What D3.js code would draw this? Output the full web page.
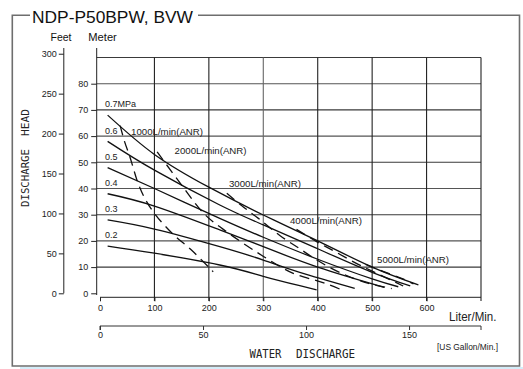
<!DOCTYPE html>
<html><head><meta charset="utf-8">
<script src="https://cdn.jsdelivr.net/npm/d3@7"></script>
<style>
html,body{margin:0;padding:0;background:#fff;}
svg{display:block;font-family:"Liberation Sans",Arial,sans-serif;}
</style></head>
<body>
<svg id="c" width="523" height="369"></svg>
<script>
const title = "NDP-P50BPW, BVW";
const literTicks = [0,100,200,300,400,500,600];
const gallonTicks = [0,50,100,150];
const meterTicks = [0,10,20,30,40,50,60,70,80];
const feetTicks = [0,50,100,150,200,250,300];
const pressureLabels = ["0.7MPa","0.6","0.5","0.4","0.3","0.2"];
const pressureLevels = [70,60,50,40,30,20];
// solid lines: [liter/min, meter]
const p07 = [[14,68],[100,53],[200,40.5],[300,29.9],[400,20],[500,10],[585,3.2]];
const p06 = [[14,58],[100,47],[220,33.7],[300,26.1],[400,17],[500,8],[570,2.8]];
const p05 = [[14,48],[100,40],[220,28.6],[300,21.4],[400,13],[500,5.5],[548,2.5]];
const p04 = [[14,38],[100,33.3],[220,24.2],[300,17.8],[400,10],[522,2.3]];
const p03 = [[14,28],[100,24.5],[220,17.8],[300,12.7],[367,8],[468,1.9]];
const p02 = [[14,18],[100,15.3],[220,10.8],[300,6.5],[367,2.9],[398,1.3]];
const pressureSeries = [p07,p06,p05,p04,p03,p02];
// dashed air consumption lines
const air1000 = [[37,64],[45,58],[55,52],[70,42],[83,36],[100,30.5],[132,23],[168,16.5],[208,8.2]];
const air2000 = [[105,54],[150,41.3],[193,30],[236,23],[282,16.5],[331,10.2],[355,7.6],[398,4.8],[422,3.2],[444,1.3]];
const air3000 = [[233,38.2],[260,33.5],[291,28.6],[331,22],[367,17],[400,12.5],[440,8],[490,4],[536,1.8]];
const air4000 = [[361,24.4],[398,19.7],[432,15.9],[470,11.5],[510,7.5],[557,2.8]];
const air5000 = [[488,11],[520,8.4],[554,5.7],[576,3.6]];
const airSeries = [air1000,air2000,air3000,air4000,air5000];
const airLabels = ["1000L/min(ANR)","2000L/min(ANR)","3000L/min(ANR)","4000L/min(ANR)","5000L/min(ANR)"];
const airLabelPos = [[57,60.5],[137,53],[237,40.5],[349,26.5],[509,11.5]];

const svg = d3.select("#c");
const x = d3.scaleLinear().domain([0,700]).range([100,481]);
const y = d3.scaleLinear().domain([0,90]).range([293.3,57.5]);
const yFeet = d3.scaleLinear().domain([0,300]).range([y(0), y(300*0.3048)]);
const xGal = d3.scaleLinear().domain([0,700/3.78541]).range([100,481]);

// bottom light band
svg.append("rect").attr("x",20).attr("y",367).attr("width",503).attr("height",2).attr("fill","#d4edf9");
// frame
const frameCol = "#6e6e6e";
svg.append("path").attr("d","M30,15.3 H12.3 V366 H519.5 V15.3 H198")
  .attr("fill","none").attr("stroke",frameCol).attr("stroke-width",1.6);
svg.append("text").text(title).attr("x",32).attr("y",22.5).attr("font-size",16.5)
  .attr("textLength",161).attr("lengthAdjust","spacingAndGlyphs").attr("fill","#111");

const gridCol = "#3a3a3a";
// horizontal grid
const g = svg.append("g");
d3.range(10,91,10).forEach(v=>{
  g.append("line").attr("x1",96.7).attr("x2",481).attr("y1",y(v)).attr("y2",y(v))
   .attr("stroke",v%20===0? "#555":gridCol).attr("stroke-width",1.1);
});
// vertical grid
d3.range(100,701,100).forEach(v=>{
  g.append("line").attr("x1",x(v)).attr("x2",x(v)).attr("y1",y(90)).attr("y2",301)
   .attr("stroke",v===300? "#666":"#222").attr("stroke-width",1.1);
});
// x axis (liter)
const xAxis = d3.axisBottom(x).tickValues(literTicks).tickSize(4).tickPadding(3);
const gx = svg.append("g").attr("transform","translate(0,297.3)").call(xAxis);
gx.select(".domain").attr("d","M100,0H481").attr("stroke","#222");
gx.selectAll("text").attr("font-size",9).attr("fill","#222");
gx.selectAll("line").attr("stroke","#222");
// gallon axis
const gAxis = d3.axisBottom(xGal).tickValues(gallonTicks).tickSize(4).tickPadding(2);
const gg = svg.append("g").attr("transform","translate(0,326)").call(gAxis);
gg.select(".domain").attr("d","M100,4V0H481V4").attr("stroke","#333");
gg.selectAll("text").attr("font-size",9).attr("fill","#222");
gg.selectAll("line").attr("stroke","#333");
// meter axis
const yAxis = d3.axisLeft(y).tickValues(meterTicks).tickSize(5.5).tickPadding(3);
const gy = svg.append("g").attr("transform","translate(96.7,0)").call(yAxis);
gy.select(".domain").attr("d","M0,48V295").attr("stroke","#222");
gy.selectAll("text").attr("font-size",9).attr("fill","#222");
gy.selectAll("line").attr("stroke","#222");
// feet axis
const fAxis = d3.axisLeft(yFeet).tickValues(feetTicks).tickSize(5).tickPadding(2);
const gf = svg.append("g").attr("transform","translate(63.8,0)").call(fAxis);
gf.select(".domain").attr("d","M0,48V293.3").attr("stroke","#222");
gf.selectAll("text").attr("font-size",9).attr("fill","#222");
gf.selectAll("line").attr("stroke","#222");

svg.append("text").text("Feet").attr("x",50.5).attr("y",40.5).attr("font-size",10.5).attr("fill","#111")
  .attr("textLength",21).attr("lengthAdjust","spacingAndGlyphs");
svg.append("text").text("Meter").attr("x",88.3).attr("y",40.5).attr("font-size",10.5).attr("fill","#111")
  .attr("textLength",28.5).attr("lengthAdjust","spacingAndGlyphs");

// axis titles
const monoFont = "'DejaVu Sans Mono',monospace";
const vt = svg.append("g").attr("transform","translate(29,0) rotate(-90)");
vt.append("text").text("DISCHARGE").attr("x",-207).attr("y",0).attr("font-size",10.5)
  .attr("font-family",monoFont).attr("textLength",58).attr("lengthAdjust","spacingAndGlyphs").attr("fill","#222");
vt.append("text").text("HEAD").attr("x",-136).attr("y",0).attr("font-size",10.5)
  .attr("font-family",monoFont).attr("textLength",27).attr("lengthAdjust","spacingAndGlyphs").attr("fill","#222");
svg.append("text").text("WATER").attr("x",249.5).attr("y",358).attr("font-size",11.5)
  .attr("font-family",monoFont).attr("textLength",32).attr("lengthAdjust","spacingAndGlyphs").attr("fill","#222");
svg.append("text").text("DISCHARGE").attr("x",296).attr("y",358).attr("font-size",11.5)
  .attr("font-family",monoFont).attr("textLength",59).attr("lengthAdjust","spacingAndGlyphs").attr("fill","#222");
svg.append("text").text("Liter/Min.").attr("x",449).attr("y",320.5).attr("font-size",12)
  .attr("textLength",47.5).attr("lengthAdjust","spacingAndGlyphs").attr("fill","#222");
svg.append("text").text("[US Gallon/Min.]").attr("x",437).attr("y",349.5).attr("font-size",9.5)
  .attr("textLength",61).attr("lengthAdjust","spacingAndGlyphs").attr("fill","#222");

// curves
const line = d3.line().x(d=>x(d[0])).y(d=>y(d[1])).curve(d3.curveNatural);
pressureSeries.forEach(s=>{
  svg.append("path").attr("d",line(s)).attr("fill","none").attr("stroke","#111").attr("stroke-width",1.3);
});
const lineC = d3.line().x(d=>x(d[0])).y(d=>y(d[1])).curve(d3.curveCatmullRom);
airSeries.forEach(s=>{
  svg.append("path").attr("d",lineC(s)).attr("fill","none").attr("stroke","#111")
    .attr("stroke-width",1.3).attr("stroke-dasharray","10,6");
});
// labels
pressureLabels.forEach((t,i)=>{
  svg.append("text").text(t).attr("x",105).attr("y",y(pressureLevels[i])-2.5)
    .attr("font-size",9).attr("fill","#222");
});
airLabels.forEach((t,i)=>{
  svg.append("text").text(t).attr("x",x(airLabelPos[i][0])).attr("y",y(airLabelPos[i][1]))
    .attr("font-size",9).attr("fill","#222").attr("textLength",72).attr("lengthAdjust","spacingAndGlyphs");
});
</script>
</body></html>
